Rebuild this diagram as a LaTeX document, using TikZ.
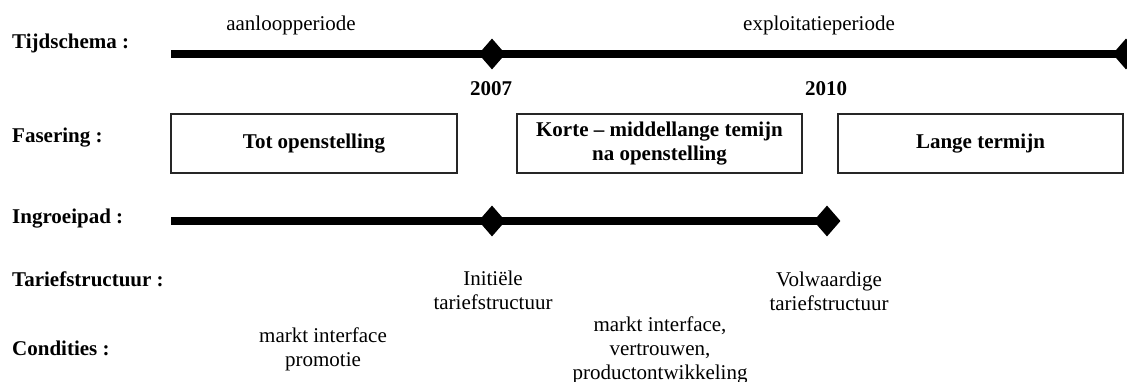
\documentclass[tikz,border=0pt]{standalone}
\usepackage{fontspec}
\setmainfont{Liberation Serif}
\usetikzlibrary{shapes.geometric}
\begin{document}
\begin{tikzpicture}[x=1pt,y=-1pt,
  every node/.style={font=\fontsize{21}{24}\selectfont, inner sep=0pt},
  rowlabel/.style={anchor=west, font=\fontsize{21}{24}\selectfont\bfseries},
  dia/.style={diamond, fill=black, draw=none, minimum width=27pt, minimum height=31pt, inner sep=0pt},
  axis/.style={line width=8pt},
  phase/.style={draw=black!85, line width=1.6pt, minimum width=286pt, minimum height=59pt, font=\fontsize{21}{24}\selectfont\bfseries, align=center},
  note/.style={align=center}]
\useasboundingbox (0,0) rectangle (1127,382);
% row labels
\node[rowlabel] (l1) at (12,43) {Tijdschema :};
\node[rowlabel] (l2) at (12,138) {Fasering :};
\node[rowlabel] (l3) at (12,219) {Ingroeipad :};
\node[rowlabel] (l4) at (12,279) {Tariefstructuur :};
\node[rowlabel] (l5) at (12,348) {Condities :};
% timeline
\coordinate (s1) at (171,54);
\coordinate (s2) at (171,221);
\draw[axis] (s1) -- (1126,54);
\node[dia] (d1) at (492,54) {};
\node[dia] (d2) at (1126,54) {};
\draw[axis] (s2) -- (827,221);
\node[dia] (d3) at (492,221) {};
\node[dia] (d4) at (827,221) {};
\node (p1) at (291,25) {aanloopperiode};
\node (p2) at (819,25) {exploitatieperiode};
\node[font=\fontsize{21}{24}\selectfont\bfseries] (y1) at (491,89) {2007};
\node[font=\fontsize{21}{24}\selectfont\bfseries] (y2) at (826,89) {2010};
% phases
\node[phase] (f1) at (314,143.5) {Tot openstelling};
\node[phase, minimum width=285pt] (f2) at (659.5,143.5) {Korte -- middellange temijn\\na openstelling};
\node[phase, minimum width=285pt] (f3) at (980.5,143.5) {Lange termijn};
% tariffs
\node[note] (t1) at (493,290) {Initiële\\tariefstructuur};
\node[note] (t2) at (829,291) {Volwaardige\\tariefstructuur};
% conditions
\node[note] (c1) at (323,349) {markt interface\\promotie};
\node[note] (c2) at (660,350) {markt interface,\\vertrouwen,\\productontwikkeling};
\end{tikzpicture}
\end{document}
